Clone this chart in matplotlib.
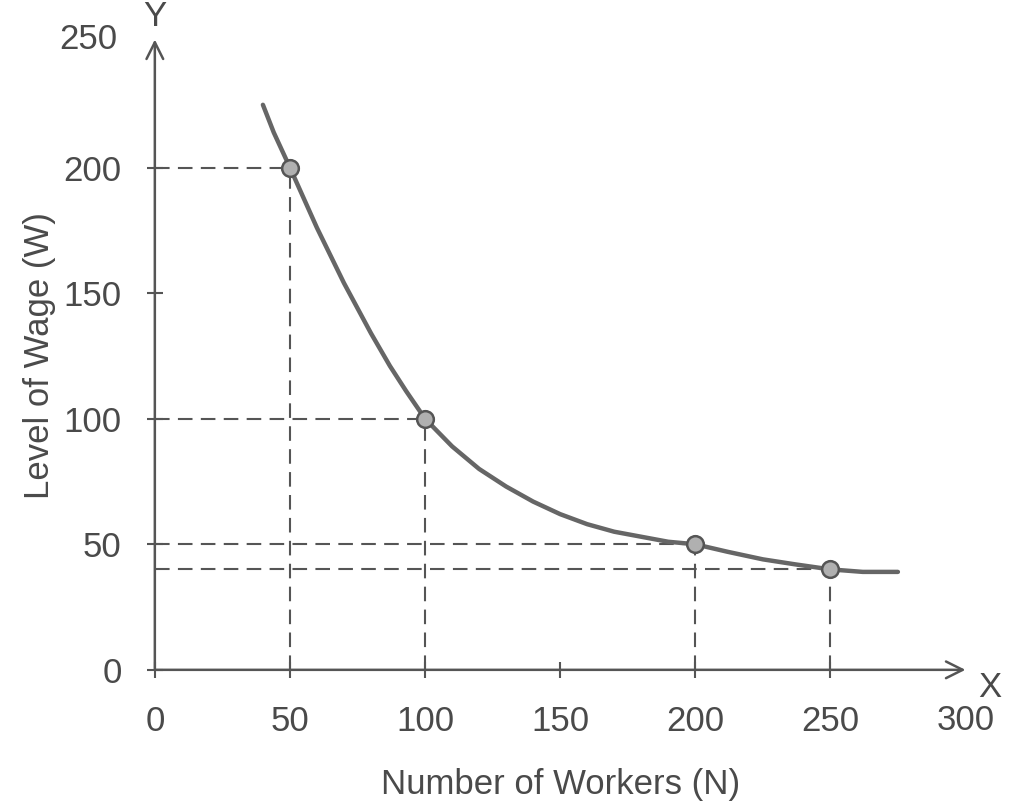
import numpy as np
import matplotlib
matplotlib.use("Agg")
import matplotlib.pyplot as plt

matplotlib.rcParams['font.family'] = ['Liberation Sans', 'DejaVu Sans']
matplotlib.rc('font', size=25)

# points marked on the curve
workers = [50, 100, 200, 250]
wages = [200, 100, 50, 40]

# the hand drawn curve
curve_x = [40, 44, 50, 55, 60, 65, 70, 75, 80, 87, 93, 100, 110, 120, 130, 140,
           150, 160, 170, 180, 190, 200, 212, 225, 237, 250, 262, 275]
curve_y = [225, 214, 200, 188, 176, 165, 154, 144, 134, 121, 111, 100, 89, 80, 73, 67,
           62, 58, 55, 53, 51, 50, 47, 44, 42, 40, 39, 39]

x_ticks = [0, 50, 100, 150, 200, 250, 300]
y_ticks = [0, 50, 100, 150, 200, 250]

ink = '#555555'
txt = '#4a4a4a'

fig = plt.figure(figsize=(10.12, 8.08), dpi=100)
ax = fig.add_axes([0.153, 0.171, 0.801, 0.777])
ax.set_xlim(0, 300)
ax.set_ylim(0, 250)
for s in ax.spines.values():
    s.set_visible(False)

# dashed guides
for x, y in zip(workers, wages):
    ax.plot([0, x], [y, y], linestyle=(0, (7, 4)), color=ink, lw=1.5, zorder=2)
    ax.plot([x, x], [0, y], linestyle=(0, (7, 4)), color=ink, lw=1.5, zorder=2)

ax.plot(curve_x, curve_y, color='#666666', lw=3.2, solid_capstyle='round',
        solid_joinstyle='round', zorder=3)
ax.plot(workers, wages, 'o', ms=12, mfc='#b0b0b0', mec=ink, mew=1.8, zorder=4)

# axes with arrows
ax.annotate('', xy=(300, 0), xytext=(0, 0),
            arrowprops=dict(arrowstyle='->', color=ink, lw=1.8, mutation_scale=30,
                            shrinkA=0, shrinkB=0), annotation_clip=False)
ax.annotate('', xy=(0, 251), xytext=(0, 0),
            arrowprops=dict(arrowstyle='->', color=ink, lw=1.8, mutation_scale=30,
                            shrinkA=0, shrinkB=0), annotation_clip=False)
ax.text(0, 260, 'Y', ha='center', va='center', color=txt, fontsize=25, clip_on=False)
ax.text(309, -7, 'X', ha='center', va='center', color=txt, fontsize=25, clip_on=False)

ax.set_xticks(x_ticks[:-1])
ax.set_yticks(y_ticks[:-1])
ax.set_xticklabels([str(v) for v in x_ticks[:-1]])
ax.set_yticklabels([str(v) for v in y_ticks[:-1]])
ax.tick_params(axis='x', direction='inout', length=12, width=1.5, color=ink,
               labelcolor=txt, pad=19)
ax.tick_params(axis='y', direction='inout', length=12, width=1.5, color=ink,
               labelcolor=txt, pad=18)
# the last labels sit at the arrow tips
ax.text(300, -20, '300', ha='center', va='center', color=txt, fontsize=25, clip_on=False)
ax.text(-14, 251, '250', ha='right', va='center', color=txt, fontsize=25, clip_on=False)

ax.set_xlabel('Number of Workers (N)', color=txt, labelpad=22)
ax.set_ylabel('Level of Wage (W)', color=txt, labelpad=5)

fig.savefig('out.png', dpi=100, facecolor='white')
